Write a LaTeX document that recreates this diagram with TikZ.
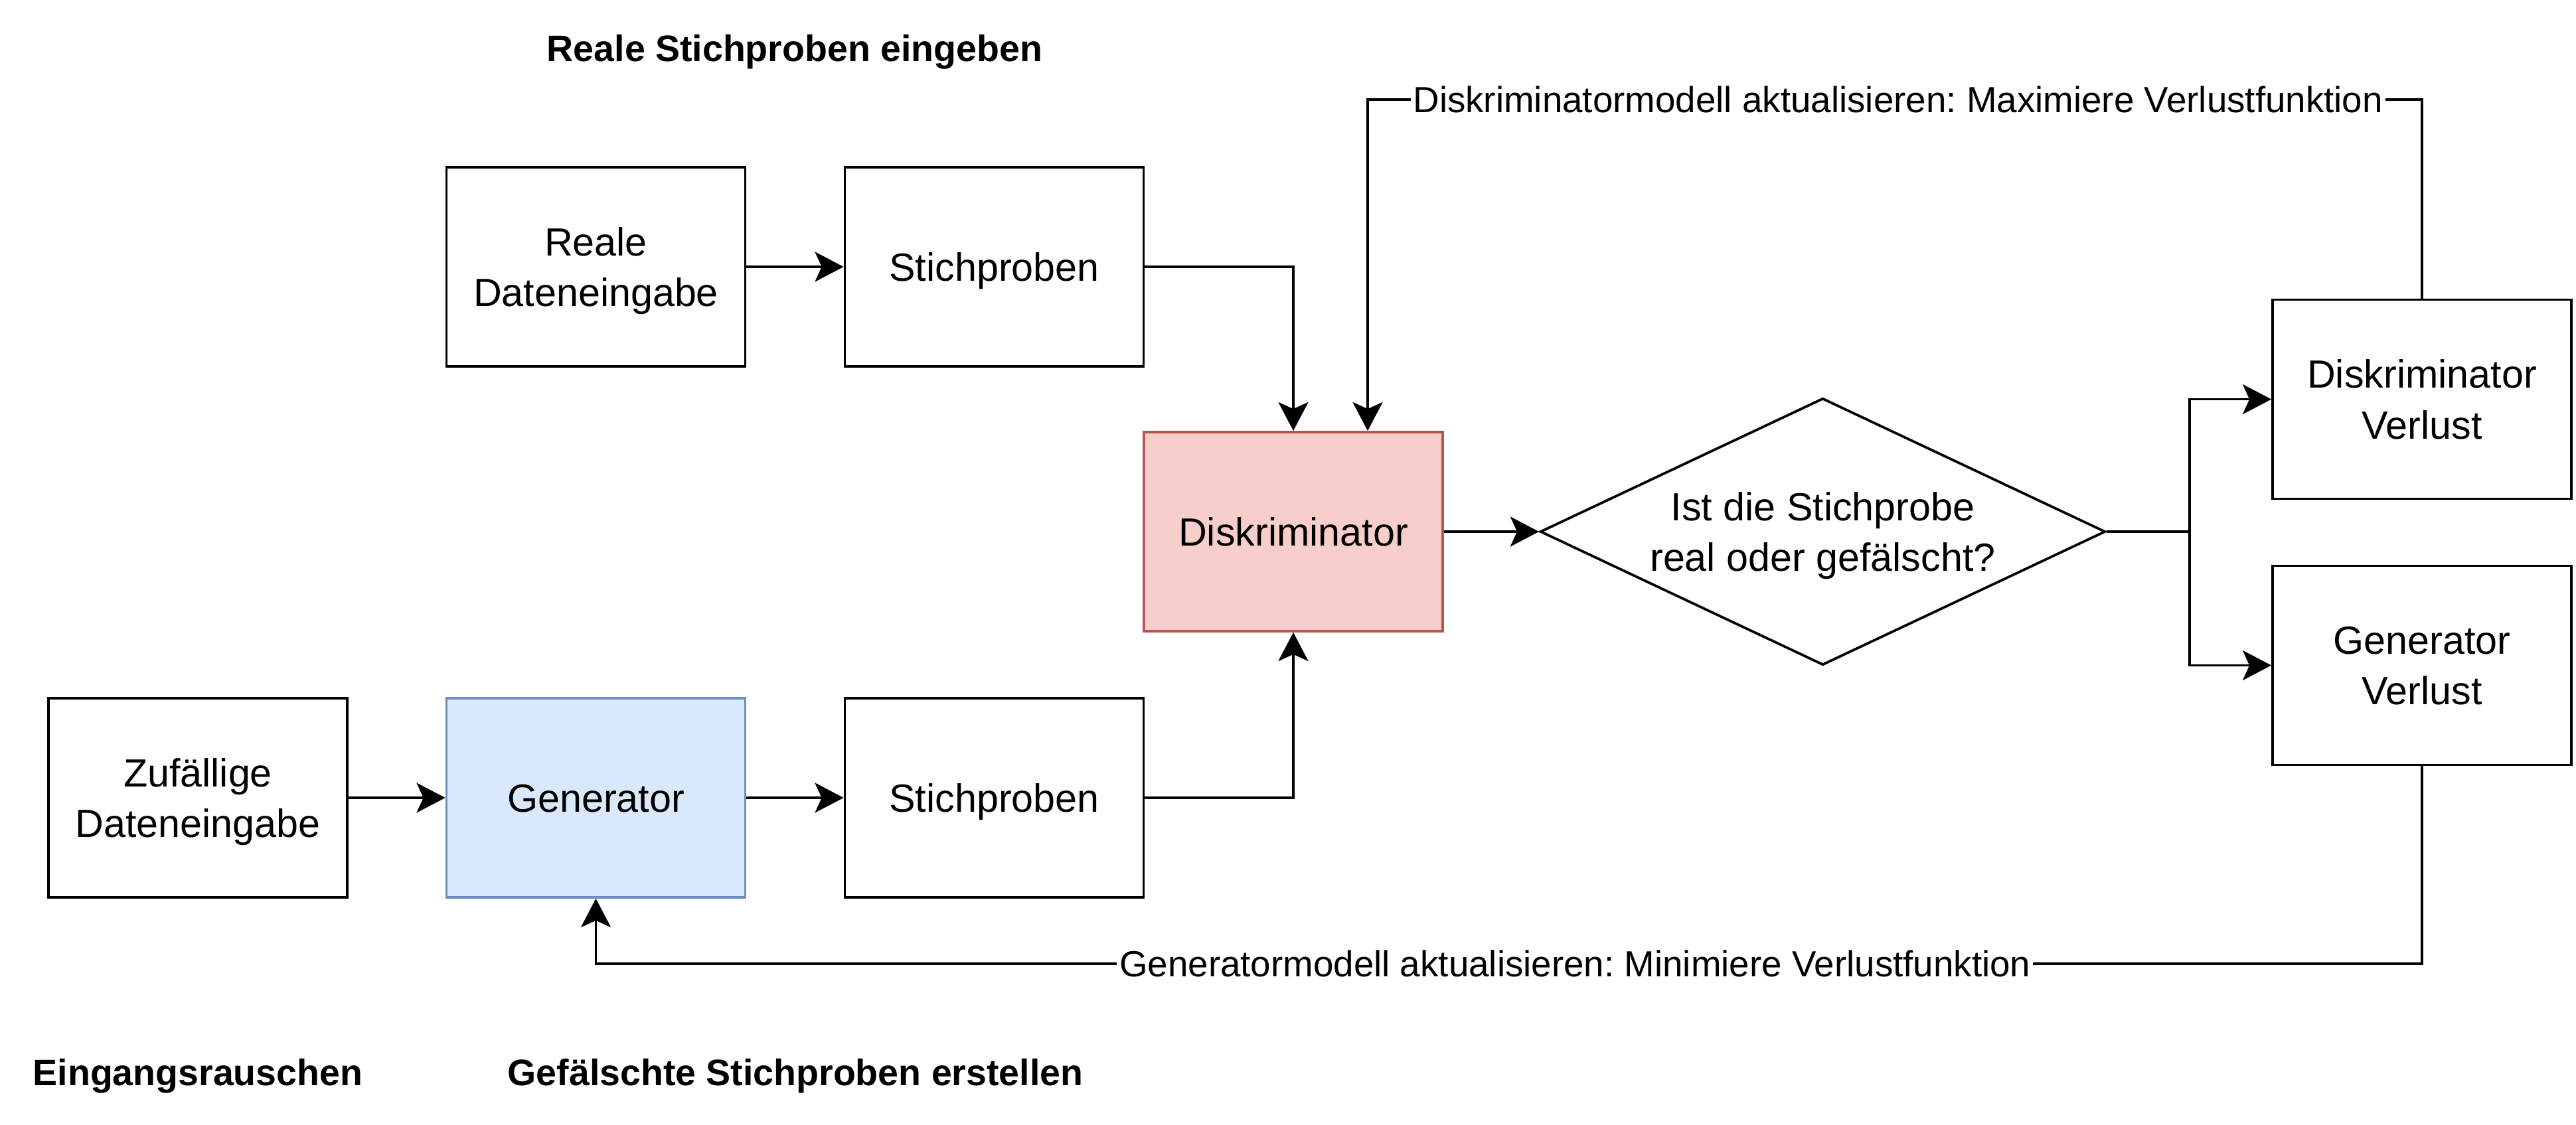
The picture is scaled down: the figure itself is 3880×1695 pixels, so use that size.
\documentclass[tikz,border=0pt]{standalone}
\usepackage{fontspec}
\setmainfont{Liberation Sans}
\usetikzlibrary{arrows.meta,shapes.geometric}
\definecolor{redfill}{HTML}{F8CECC}
\definecolor{redline}{HTML}{B85450}
\definecolor{bluefill}{HTML}{DAE8FC}
\definecolor{blueline}{HTML}{6C8EBF}
\frenchspacing
\begin{document}
\begin{tikzpicture}[x=0.26667pt,y=-0.26667pt,
  boxtext/.style={font=\fontsize{15.8}{20.3}\selectfont, align=center, text height=11.4pt, text depth=0pt},
  twoline/.style={text height=31.7pt, text depth=0pt},
  box/.style={boxtext, draw, line width=1pt, minimum width=120pt, minimum height=80pt, inner sep=0pt},
  title/.style={font=\fontsize{14.8}{17.8}\selectfont\bfseries, anchor=base, inner sep=0pt},
  lab/.style={font=\fontsize{14.6}{17.5}\selectfont, fill=white, inner xsep=1pt, inner ysep=2pt, text height=10.5pt, text depth=0pt},
  conn/.style={line width=1pt, -{Stealth[length=11.5pt, width=12pt, inset=2.7pt]}},
  plain/.style={line width=1pt}]
\useasboundingbox (0,0) rectangle (3880,1695);
% titles
\node[title] (t1) at (1197,93) {Reale Stichproben eingeben};
\node[title] (t2) at (298,1636) {Eingangsrauschen};
\node[title] (t3) at (1198,1636) {Gefälschte Stichproben erstellen};
% boxes
\node[box, twoline] (reale) at (897.5,402) {Reale\\Dateneingabe};
\node[box] (stt) at (1497.5,402) {Stichproben};
\node[box, fill=redfill, draw=redline] (disk) at (1948,801) {Diskriminator};
\node[diamond, draw, line width=1pt, minimum width=227pt, minimum height=107.2pt, inner sep=0pt, aspect=2.12] (dia) at (2745.5,801) {};
\node[boxtext, twoline] (dtext) at (dia.center) {Ist die Stichprobe\\real oder gefälscht?};
\node[box, twoline] (dv) at (3648,601.6) {Diskriminator\\Verlust};
\node[box, twoline] (gv) at (3648,1002.5) {Generator\\Verlust};
\node[box, twoline] (zuf) at (298,1202) {Zufällige\\Dateneingabe};
\node[box, fill=bluefill, draw=blueline] (gen) at (897.5,1202) {Generator};
\node[box] (stb) at (1497.5,1202) {Stichproben};
% connectors
\draw[conn] (reale.east) -- (stt.west);
\draw[conn] (stt.east) -| (disk.north);
\draw[conn] (zuf.east) -- (gen.west);
\draw[conn] (gen.east) -- (stb.west);
\draw[conn] (stb.east) -| (disk.south);
\draw[conn] (disk.east) -- (dia.west);
\coordinate (br) at (3298,801);
\draw[plain] (dia.east) -- (br);
\draw[conn] (br) |- (dv.west);
\draw[conn] (br) |- (gv.west);
\coordinate (tr) at (3648,150);
\coordinate (tl) at (2060,150);
\draw[conn] (dv.north) -- (tr) -- node[lab, pos=0.497] (l1) {Diskriminatormodell aktualisieren: Maximiere Verlustfunktion} (tl) -- (tl |- disk.north);
\coordinate (br2) at (3648,1452);
\coordinate (bl2) at (897.5,1452);
\draw[conn] (gv.south) -- (br2) -- node[lab, pos=0.4638] (l2) {Generatormodell aktualisieren: Minimiere Verlustfunktion} (bl2) -- (gen.south);
\end{tikzpicture}
\end{document}
